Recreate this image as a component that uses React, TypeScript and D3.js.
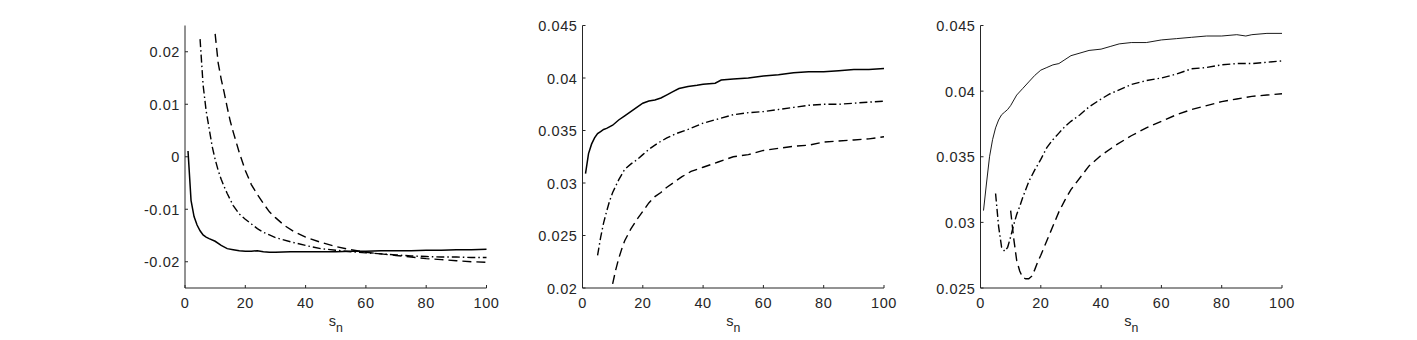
import React from 'react';
import * as d3 from 'd3';

const width = 1417;
const height = 340;

const xTicks = [0, 20, 40, 60, 80, 100];
const xLabel = 's';
const xLabelSub = 'n';

// panel 1: [s_n, value]
const p1Solid: [number, number][] = [
  [1, 0.0011], [2, -0.0083], [3, -0.0114], [4, -0.013], [5, -0.0141], [6, -0.0149], [7, -0.0153],
  [8, -0.0156], [10, -0.0161], [12, -0.0169], [14, -0.0175], [16, -0.0177], [18, -0.0179],
  [20, -0.018], [22, -0.018], [24, -0.0179], [26, -0.0181], [28, -0.0182], [30, -0.0182],
  [35, -0.0181], [40, -0.0181], [45, -0.0181], [50, -0.0181], [55, -0.018], [60, -0.018],
  [65, -0.0179], [70, -0.0179], [75, -0.0179], [80, -0.0178], [85, -0.0178], [90, -0.0177],
  [95, -0.0177], [100, -0.0176],
];
const p1DashDot: [number, number][] = [
  [5, 0.0224], [6, 0.0137], [7, 0.0088], [8, 0.0054], [9, 0.002], [10, -0.0005], [11, -0.0026],
  [12, -0.0043], [13, -0.0057], [14, -0.007], [16, -0.0093], [18, -0.0109], [20, -0.0119],
  [22, -0.0128], [24, -0.0137], [26, -0.0144], [28, -0.0149], [30, -0.0154], [35, -0.0162],
  [40, -0.0169], [45, -0.0175], [50, -0.0178], [55, -0.0181], [60, -0.0183], [65, -0.0185],
  [70, -0.0187], [75, -0.0189], [80, -0.019], [85, -0.0191], [90, -0.0191], [95, -0.0192],
  [100, -0.0192],
];
const p1Dashed: [number, number][] = [
  [10, 0.0234], [11, 0.0179], [12, 0.0148], [13, 0.0122], [14, 0.0094], [15, 0.0068], [16, 0.0047],
  [18, 0.0008], [20, -0.0026], [22, -0.0053], [24, -0.0072], [26, -0.0089], [28, -0.0105],
  [30, -0.0116], [33, -0.0131], [36, -0.0142], [40, -0.0153], [45, -0.0163], [50, -0.0171],
  [55, -0.0177], [60, -0.0182], [65, -0.0185], [70, -0.0188], [75, -0.0191], [80, -0.0194],
  [85, -0.0196], [90, -0.0198], [95, -0.02], [100, -0.0201],
];
const p1YTicks = [-0.02, -0.01, 0, 0.01, 0.02];

// panel 2
const p2Solid: [number, number][] = [
  [1, 0.0309], [2, 0.0328], [3, 0.0337], [4, 0.0343], [5, 0.0347], [6, 0.0349], [7, 0.0351],
  [8, 0.0352], [10, 0.0355], [12, 0.036], [14, 0.0364], [16, 0.0368], [18, 0.0372], [20, 0.0376],
  [22, 0.0378], [24, 0.0379], [26, 0.0381], [28, 0.0384], [30, 0.0387], [32, 0.039], [35, 0.0392],
  [38, 0.0393], [40, 0.0394], [44, 0.0395], [46, 0.0398], [50, 0.0399], [55, 0.04], [60, 0.0402],
  [65, 0.0403], [70, 0.0405], [75, 0.0406], [80, 0.0406], [85, 0.0407], [90, 0.0408],
  [95, 0.0408], [100, 0.0409],
];
const p2DashDot: [number, number][] = [
  [5, 0.0231], [6, 0.0248], [7, 0.0262], [8, 0.0273], [9, 0.0283], [10, 0.0291], [12, 0.0303],
  [14, 0.0313], [16, 0.0318], [18, 0.0322], [20, 0.0327], [22, 0.0332], [25, 0.0338],
  [28, 0.0343], [31, 0.0347], [35, 0.0351], [40, 0.0357], [45, 0.0361], [50, 0.0365],
  [55, 0.0367], [60, 0.0368], [65, 0.037], [70, 0.0372], [75, 0.0374], [80, 0.0375],
  [85, 0.0375], [90, 0.0376], [95, 0.0377], [100, 0.0378],
];
const p2Dashed: [number, number][] = [
  [10, 0.0204], [11, 0.0217], [12, 0.0228], [13, 0.0237], [14, 0.0245], [16, 0.0256], [18, 0.0265],
  [20, 0.0273], [22, 0.0281], [24, 0.0287], [26, 0.0291], [28, 0.0296], [30, 0.03], [33, 0.0306],
  [36, 0.0311], [40, 0.0315], [45, 0.032], [50, 0.0325], [55, 0.0327], [60, 0.0331],
  [65, 0.0333], [70, 0.0335], [75, 0.0336], [80, 0.0339], [85, 0.034], [90, 0.0341],
  [95, 0.0342], [100, 0.0344],
];
const p2YTicks = [0.02, 0.025, 0.03, 0.035, 0.04, 0.045];

// panel 3
const p3Solid: [number, number][] = [
  [1, 0.0309], [2, 0.033], [3, 0.035], [4, 0.0363], [5, 0.0372], [6, 0.0378], [7, 0.0382],
  [8, 0.0384], [9, 0.0386], [10, 0.0389], [12, 0.0397], [14, 0.0402], [16, 0.0407], [18, 0.0412],
  [20, 0.0416], [22, 0.0418], [24, 0.042], [26, 0.0421], [28, 0.0424], [30, 0.0427], [33, 0.0429],
  [36, 0.0431], [40, 0.0432], [43, 0.0434], [46, 0.0436], [50, 0.0437], [55, 0.0437],
  [60, 0.0439], [65, 0.044], [70, 0.0441], [75, 0.0442], [80, 0.0442], [85, 0.0443],
  [88, 0.0442], [90, 0.0443], [95, 0.0444], [100, 0.0444],
];
const p3DashDot: [number, number][] = [
  [5, 0.0322], [6, 0.0297], [7, 0.0281], [8, 0.0278], [9, 0.0281], [10, 0.0289], [11, 0.0298],
  [12, 0.0306], [13, 0.0312], [14, 0.0319], [16, 0.0331], [18, 0.034], [20, 0.0348], [22, 0.0357],
  [24, 0.0363], [26, 0.0368], [28, 0.0373], [30, 0.0377], [33, 0.0382], [36, 0.0388],
  [40, 0.0394], [43, 0.0398], [46, 0.0401], [50, 0.0405], [55, 0.0408], [60, 0.041],
  [65, 0.0413], [70, 0.0417], [75, 0.0418], [80, 0.042], [85, 0.0421], [90, 0.0421],
  [95, 0.0422], [100, 0.0423],
];
const p3Dashed: [number, number][] = [
  [10, 0.0309], [11, 0.0288], [12, 0.0271], [13, 0.0263], [14, 0.0258], [15, 0.0257], [16, 0.0257],
  [17, 0.0259], [18, 0.0264], [19, 0.027], [20, 0.0275], [22, 0.0286], [24, 0.0297], [26, 0.0308],
  [28, 0.0317], [30, 0.0325], [33, 0.0334], [36, 0.0343], [40, 0.0351], [45, 0.0359],
  [50, 0.0366], [55, 0.0372], [60, 0.0377], [65, 0.0382], [70, 0.0386], [75, 0.0389],
  [80, 0.0392], [85, 0.0394], [90, 0.0396], [95, 0.0397], [100, 0.0398],
];
const p3YTicks = [0.025, 0.03, 0.035, 0.04, 0.045];

const panels = [
  { left: 185, yDomain: [-0.025, 0.025], yTicks: p1YTicks, solid: p1Solid, dashDot: p1DashDot, dashed: p1Dashed, solidW: 1.5 },
  { left: 582.5, yDomain: [0.02, 0.045], yTicks: p2YTicks, solid: p2Solid, dashDot: p2DashDot, dashed: p2Dashed, solidW: 1.5 },
  { left: 980.5, yDomain: [0.025, 0.045], yTicks: p3YTicks, solid: p3Solid, dashDot: p3DashDot, dashed: p3Dashed, solidW: 0.9 },
];

const plotW = 301.5;
const top = 25.5;
const bottom = 288;
const axisColor = '#262626';
const font = '"Liberation Sans", Arial, sans-serif';
const fs = 14.5;

const fmt = (v: number) => String(+v.toFixed(4));

const Panel = ({ p }: { p: typeof panels[number] }) => {
  const x = d3.scaleLinear().domain([0, 100]).range([p.left, p.left + plotW]);
  const y = d3.scaleLinear().domain(p.yDomain).range([bottom, top]);
  const line = d3.line<[number, number]>().x(d => x(d[0])).y(d => y(d[1]));

  return (
    <g>
      <path d={line(p.dashed) || ''} fill="none" stroke="#000" strokeWidth={1.4} strokeDasharray="9,5" />
      <path d={line(p.dashDot) || ''} fill="none" stroke="#000" strokeWidth={1.4} strokeDasharray="8,3,1.5,3" />
      <path d={line(p.solid) || ''} fill="none" stroke="#000" strokeWidth={p.solidW} />

      <line x1={p.left} x2={p.left} y1={top} y2={bottom} stroke={axisColor} strokeWidth={1} />
      <line x1={p.left} x2={p.left + plotW} y1={bottom} y2={bottom} stroke={axisColor} strokeWidth={1} />

      {xTicks.map(t => (
        <g key={'x' + t}>
          <line x1={x(t)} x2={x(t)} y1={bottom} y2={bottom - 3} stroke={axisColor} />
          <text x={x(t)} y={bottom + 20} textAnchor="middle" fontFamily={font} fontSize={fs}
            letterSpacing={0.6} fill={axisColor}>{t}</text>
        </g>
      ))}
      {p.yTicks.map(t => (
        <g key={'y' + t}>
          <line x1={p.left} x2={p.left + 3} y1={y(t)} y2={y(t)} stroke={axisColor} />
          <text x={p.left - 5} y={y(t) + 5.5} textAnchor="end" fontFamily={font} fontSize={fs}
            letterSpacing={0.6} fill={axisColor}>{fmt(t)}</text>
        </g>
      ))}
      <text x={p.left + plotW / 2} y={326} textAnchor="middle" fontFamily={font} fontSize={fs} fill={axisColor}>
        {xLabel}
        <tspan dy={6} fontSize={fs * 0.85}>{xLabelSub}</tspan>
      </text>
    </g>
  );
};

export default function App() {
  return (
    <svg width={width} height={height} style={{ position: 'absolute', left: 0, top: 0, background: '#fff' }}>
      <rect width={width} height={height} fill="#fff" />
      {panels.map((p, i) => <Panel key={i} p={p} />)}
    </svg>
  );
}
